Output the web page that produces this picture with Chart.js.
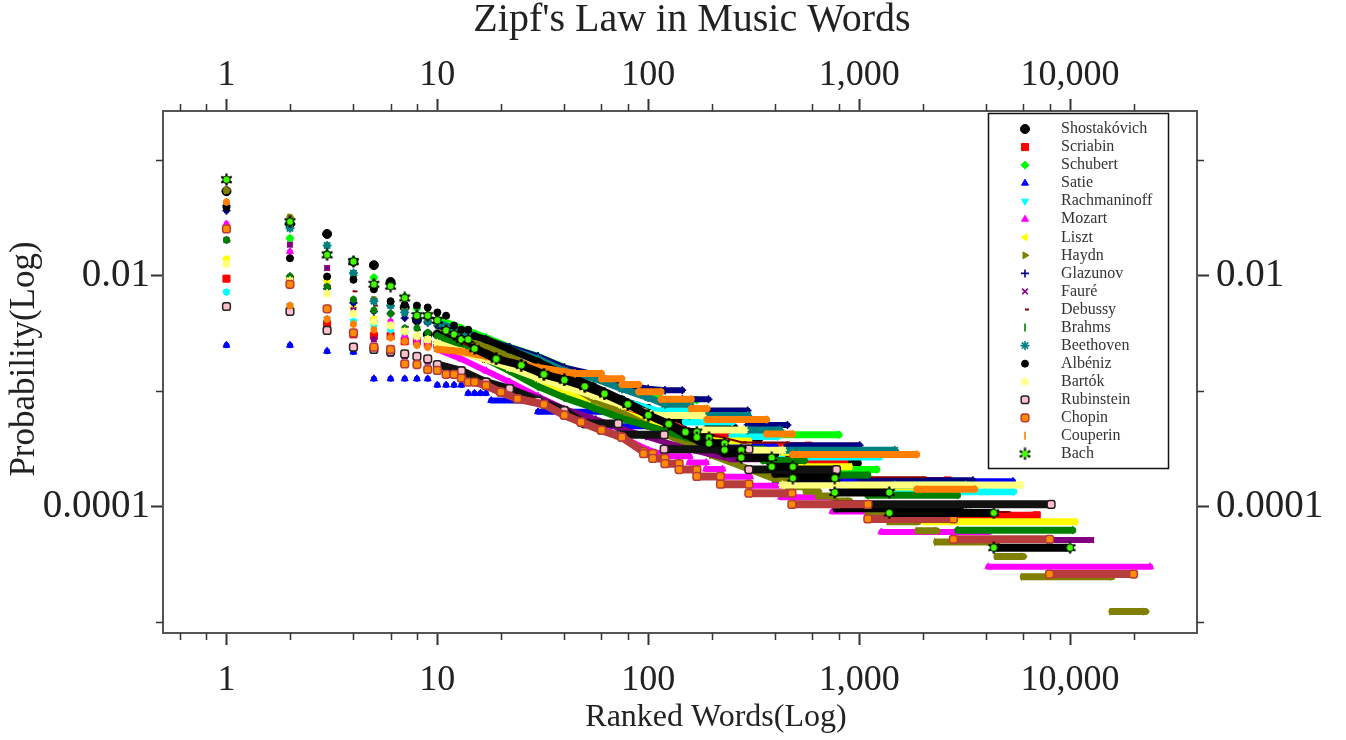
<!DOCTYPE html>
<html>
<head>
<meta charset="utf-8">
<title>Zipf's Law in Music Words</title>
<script src="https://cdn.jsdelivr.net/npm/chart.js@4.4.1/dist/chart.umd.min.js"></script>
<style>
  html, body { margin: 0; padding: 0; background: #fff; }
  canvas { display: block; }
</style>
</head>
<body>
<canvas id="zipf" width="1346" height="740"></canvas>
<script>
// every entry: [firstRank, lastRank, probability]  (a plateau, or one point when ranks are equal)
//          or  [firstRank, lastRank, pStart, pEnd] (the dense middle of the curve)
const shostakovich = [[1,1,0.0536],[2,2,0.028],[3,3,0.0229],[4,4,0.0132],[5,5,0.0123],[6,6,0.0088],[7,7,0.0053],[8,8,0.0041],[9,9,0.0031],
  [10,13,0.0031,0.0027],[13,17,0.0027,0.0023],[17,22,0.0023,0.0019],[22,30,0.0019,0.0015],[30,40,0.0015,0.00125],[40,55,0.00125,0.0010],
  [55,75,0.0010,0.00082],[75,100,0.00082,0.0007],[100,148,0.0007,0.000554],
  [148,192,0.000554],[192,255,0.000475],[255,335,0.000396],[335,600,0.000317],[600,975,0.000238],[975,1440,0.000158],[1440,6400,0.0000792]];
const scriabin = [[1,1,0.0094],[2,2,0.0092],[3,3,0.0038],[4,4,0.0031],[5,5,0.0030],[6,6,0.0030],[7,7,0.0027],[8,8,0.0027],[9,9,0.0026],
  [10,13,0.0025,0.0022],[13,17,0.0022,0.0019],[17,22,0.0019,0.0016],[22,30,0.0016,0.0013],[30,40,0.0013,0.0011],[40,55,0.0011,0.0009],
  [55,75,0.0009,0.00075],[75,100,0.00075,0.00062],[100,170,0.00062,0.000423],
  [170,243,0.000423],[243,575,0.000338],[575,850,0.000254],[850,2630,0.000169],[2630,6950,0.0000845]];
const schubert = [[1,1,0.0255],[2,2,0.0210],[3,3,0.0155],[4,4,0.0136],[5,5,0.0096],[6,6,0.0082],[7,7,0.0066],[8,8,0.0052],[9,9,0.0046],
  [10,13,0.0042,0.0035],[13,17,0.0035,0.0029],[17,22,0.0029,0.0024],[22,30,0.0024,0.0020],[30,40,0.0020,0.0016],[40,55,0.0016,0.0013],
  [55,75,0.0013,0.0011],[75,100,0.0011,0.00095],[100,120,0.00095,0.00084],
  [120,170,0.00084],[170,270,0.00063],[270,800,0.00042],[800,1210,0.00021]];
const satie = [[1,1,0.0025],[2,2,0.0025],[3,3,0.00222],[4,4,0.00218],[5,5,0.00128],[6,6,0.00128],[7,7,0.00128],[8,8,0.00128],[9,9,0.00128],
  [10,10,0.00113],[11,11,0.00113],[12,12,0.00113],[13,13,0.00113],[14,14,0.00096],[15,15,0.00096],[16,16,0.00096],[17,17,0.00096],
  [18,30,0.00083],[30,60,0.000664],[60,120,0.000498],[120,400,0.000332],[400,5360,0.000166]];
const rachmaninoff = [[1,1,0.0072],[2,2,0.0055],[3,3,0.0042],[4,4,0.0040],[5,5,0.0037],[6,6,0.0034],[7,7,0.0031],[8,8,0.0029],[9,9,0.0027],
  [10,13,0.0026,0.0023],[13,17,0.0023,0.0020],[17,22,0.0020,0.0017],[22,30,0.0017,0.0014],[30,40,0.0014,0.0012],[40,55,0.0012,0.00098],
  [55,75,0.00098,0.00083],[75,110,0.00083,0.000675],
  [110,150,0.000675],[150,250,0.00054],[250,410,0.000405],[410,1250,0.00027],[1250,5400,0.000135]];
const mozart = [[1,1,0.0279],[2,2,0.0161],[3,3,0.0085],[4,4,0.0061],[5,5,0.0042],[6,6,0.0040],[7,7,0.0030],[8,8,0.0027],[9,9,0.0025],
  [10,13,0.0023,0.0019],[13,17,0.0019,0.0015],[17,22,0.0015,0.0012],[22,30,0.0012,0.0009],[30,40,0.0009,0.0007],[40,55,0.0007,0.00052],
  [55,75,0.00052,0.0004],[75,100,0.0004,0.00031],[100,125,0.00031,0.000273],
  [125,157,0.000273],[157,188,0.000242],[188,225,0.000212],[225,304,0.000182],[304,427,0.000152],[427,748,0.000121],
  [748,1275,0.0000909],[1275,4100,0.0000606],[4100,24000,0.0000303]];
const liszt = [[1,1,0.0139],[2,2,0.0096],[3,3,0.0090],[4,4,0.0053],[5,5,0.0042],[6,6,0.0037],[7,7,0.0033],[8,8,0.0030],[9,9,0.0028],
  [10,13,0.0026,0.0022],[13,17,0.0022,0.0019],[17,22,0.0019,0.0016],[22,30,0.0016,0.0013],[30,40,0.0013,0.0010],[40,55,0.0010,0.00082],
  [55,75,0.00082,0.00065],[75,100,0.00065,0.00055],[100,140,0.00055,0.00045],[140,200,0.00045,0.00037],
  [200,300,0.00037],[300,500,0.000296],[500,900,0.000222],[900,2040,0.000148],[2040,10570,0.0000741]];
const haydn = [[1,1,0.0545],[2,2,0.0319],[3,3,0.0153],[4,4,0.0100],[5,5,0.0062],[6,6,0.0059],[7,7,0.0051],[8,8,0.0045],[9,9,0.0041],
  [10,13,0.0037,0.0030],[13,17,0.0030,0.0025],[17,22,0.0025,0.0020],[22,30,0.0020,0.0015],[30,40,0.0015,0.0012],[40,55,0.0012,0.00085],
  [55,75,0.00085,0.00065],[75,100,0.00065,0.0005],[100,200,0.0005,0.00028],[200,400,0.00028,0.000174],
  [400,460,0.000174],[460,560,0.000149],[560,640,0.000136],[640,760,0.000124],[760,900,0.000112],[900,1100,0.0000992],[1100,1390,0.0000868],
  [1390,1900,0.0000744],[1900,2330,0.000062],[2330,4500,0.0000496],[4500,6000,0.0000372],[6000,15800,0.0000248],[15800,22800,0.0000124]];
const glazunov = [[1,1,0.0364],[2,2,0.0098],[3,3,0.0077],[4,4,0.0058],[5,5,0.0049],[6,6,0.0047],[7,7,0.0043],[8,8,0.0041],[9,9,0.0039],
  [10,13,0.0037,0.0032],[13,17,0.0032,0.0028],[17,22,0.0028,0.0024],[22,30,0.0024,0.0020],[30,40,0.0020,0.0016],[40,55,0.0016,0.0014],
  [55,75,0.0014,0.00115],[75,100,0.00115,0.00105],[100,120,0.00105,0.00102],
  [120,145,0.00102],[145,193,0.00085],[193,296,0.00068],[296,457,0.00051],[457,1005,0.00034],[1005,3460,0.00017]];
const faure = [[1,1,0.0203],[2,2,0.0185],[3,3,0.0116],[4,4,0.0050],[5,5,0.0028],[6,6,0.0021],[7,7,0.0020],[8,8,0.0019],[9,9,0.0018],
  [10,13,0.0017,0.0015],[13,17,0.0015,0.0012],[17,22,0.0012,0.00105],[22,30,0.00105,0.00088],[30,40,0.00088,0.0007],[40,55,0.0007,0.00058],
  [55,75,0.00058,0.00047],[75,100,0.00047,0.0004],[100,150,0.0004,0.00032],[150,250,0.00032,0.000258],
  [250,400,0.000258],[400,700,0.000206],[700,1400,0.000155],[1400,3300,0.000103],[3300,12600,0.0000515]];
const debussy = [[1,1,0.0200],[2,2,0.0096],[3,3,0.0080],[4,4,0.0073],[5,5,0.0055],[6,6,0.0047],[7,7,0.0036],[8,8,0.0034],[9,9,0.0032],
  [10,13,0.0030,0.0026],[13,17,0.0026,0.0022],[17,22,0.0022,0.0018],[22,30,0.0018,0.0015],[30,40,0.0015,0.0012],[40,55,0.0012,0.00095],
  [55,75,0.00095,0.00075],[75,100,0.00075,0.00062],[100,150,0.00062,0.00048],[150,280,0.00048,0.00036],
  [280,450,0.00036],[450,800,0.00027],[800,2000,0.00018],[2000,5000,0.00009]];
const brahms = [[1,1,0.0203],[2,2,0.0098],[3,3,0.0080],[4,4,0.0062],[5,5,0.0050],[6,6,0.0047],[7,7,0.0035],[8,8,0.0035],[9,9,0.0032],
  [10,13,0.0030,0.0024],[13,17,0.0024,0.0019],[17,22,0.0019,0.0015],[22,30,0.0015,0.0011],[30,40,0.0011,0.00088],[40,55,0.00088,0.00072],
  [55,75,0.00072,0.00058],[75,100,0.00058,0.0005],[100,150,0.0005,0.0004],[150,250,0.0004,0.000314],
  [250,350,0.000314],[350,550,0.000251],[550,1100,0.000188],[1100,2930,0.000126],[2930,10300,0.0000628]];
const beethoven = [[1,1,0.0402],[2,2,0.0257],[3,3,0.0182],[4,4,0.0105],[5,5,0.0060],[6,6,0.0055],[7,7,0.0048],[8,8,0.0045],[9,9,0.0040],
  [10,13,0.0039,0.0033],[13,17,0.0033,0.0028],[17,22,0.0028,0.0023],[22,30,0.0023,0.0019],[30,40,0.0019,0.0015],[40,55,0.0015,0.0013],
  [55,75,0.0013,0.00105],[75,100,0.00105,0.00088],[100,120,0.00088,0.00077],
  [120,157,0.00077],[157,296,0.000616],[296,420,0.000462],[420,1475,0.000308],[1475,3200,0.000154]];
const albeniz = [[1,1,0.0389],[2,2,0.0141],[3,3,0.0098],[4,4,0.0092],[5,5,0.0076],[6,6,0.0060],[7,7,0.0056],[8,8,0.0055],[9,9,0.0053],
  [10,10,0.0048],[11,11,0.0045],[12,12,0.0037],[13,13,0.0034],[14,14,0.0034],
  [15,17,0.0030,0.0028],[17,22,0.0028,0.0023],[22,30,0.0023,0.0018],[30,40,0.0018,0.0014],[40,55,0.0014,0.0011],
  [55,75,0.0011,0.00085],[75,100,0.00085,0.00065],[100,150,0.00065,0.00042],[150,230,0.00042,0.000288],
  [230,400,0.000288],[400,780,0.000192],[780,3000,0.000096]];
const bartok = [[1,1,0.0126],[2,2,0.0090],[3,3,0.0070],[4,4,0.0047],[5,5,0.0040],[6,6,0.0037],[7,7,0.0033],[8,8,0.0030],[9,9,0.0028],
  [10,13,0.0026,0.0022],[13,17,0.0022,0.0019],[17,22,0.0019,0.0016],[22,30,0.0016,0.0013],[30,40,0.0013,0.0011],[40,55,0.0011,0.00092],
  [55,75,0.00092,0.00076],[75,110,0.00076,0.000616],
  [110,180,0.000616],[180,285,0.000462],[285,433,0.000308],[433,5800,0.000154]];
const rubinstein = [[1,1,0.0054],[2,2,0.0049],[3,3,0.00335],[4,4,0.0024],[5,5,0.0023],[6,6,0.0022],[7,7,0.0021],[8,8,0.0020],[9,9,0.0019],
  [10,13,0.0017,0.0015],[13,17,0.0015,0.0012],[17,22,0.0012,0.00105],[22,30,0.00105,0.00082],[30,40,0.00082,0.00068],[40,50,0.00068,0.000525],
  [50,72,0.000525],[72,119,0.00042],[119,300,0.000315],[300,781,0.00021],[781,8130,0.000105]];
const chopin = [[1,1,0.0253],[2,2,0.0084],[3,3,0.00516],[4,4,0.0032],[5,5,0.0024],[6,6,0.0023],[7,7,0.00172],[8,8,0.0017],[9,9,0.00154],
  [10,10,0.00151],[11,11,0.0014],[12,12,0.0014],[13,13,0.0013],[14,14,0.0012],
  [15,17,0.0012,0.00112],[17,20,0.00112,0.00098],[20,24,0.00098,0.00086],[24,32,0.00086,0.00077],[32,40,0.00077,0.00062],
  [40,48,0.00062,0.00054],[48,60,0.00054,0.00046],[60,75,0.00046,0.0004],[75,95,0.0004,0.0003],
  [95,105,0.000288],[105,120,0.000262],[120,140,0.000236],[140,170,0.00021],[170,220,0.000183],[220,300,0.000157],
  [300,480,0.000131],[480,1100,0.000105],[1100,2800,0.0000786],[2800,8000,0.0000524],[8000,20000,0.0000262]];
const couperin = [[1,1,0.0433],[2,2,0.0055],[3,3,0.0042],[4,4,0.0038],[5,5,0.0034],[6,6,0.0029],[7,7,0.0027],[8,8,0.0025],[9,9,0.0024],
  [10,13,0.0023,0.0022],[13,17,0.0022,0.0020],[17,22,0.0020,0.0018],[22,30,0.0018,0.0016],[30,45,0.0016,0.00142],
  [45,60,0.00142],[60,75,0.00128],[75,90,0.00114],[90,115,0.00099],[115,160,0.00085],
  [160,190,0.00071],[190,364,0.000568],[364,483,0.000426],[483,1875,0.000284],[1875,3530,0.000142]];
const bach = [[1,1,0.0675],[2,2,0.0292],[3,3,0.0151],[4,4,0.0132],[5,5,0.0084],[6,6,0.0081],[7,7,0.0064],[8,8,0.0045],[9,9,0.0045],
  [10,10,0.0041],[11,11,0.00335],[12,12,0.0031],[13,13,0.0028],[14,14,0.0028],
  [15,19,0.00233,0.0019],[19,25,0.0019,0.00168],[25,32,0.00168,0.0014],[32,40,0.0014,0.00125],[40,50,0.00125,0.0011],
  [50,62,0.0011,0.00095],[62,80,0.00095,0.00077],[80,100,0.00077,0.00062],[100,125,0.00062,0.00052],[125,150,0.00052,0.000443],
  [150,170,0.000443],[170,194,0.000399],[194,230,0.000354],[230,276,0.00031],[276,385,0.000266],[385,485,0.000222],
  [485,766,0.000177],[766,1390,0.000133],[1390,4350,0.0000886],[4350,10000,0.0000443]];

const composers = ['Shostakóvich', 'Scriabin', 'Schubert', 'Satie', 'Rachmaninoff', 'Mozart', 'Liszt', 'Haydn', 'Glazunov',
  'Fauré', 'Debussy', 'Brahms', 'Beethoven', 'Albéniz', 'Bartók', 'Rubinstein', 'Chopin', 'Couperin', 'Bach'];
const allSeries = [shostakovich, scriabin, schubert, satie, rachmaninoff, mozart, liszt, haydn, glazunov,
  faure, debussy, brahms, beethoven, albeniz, bartok, rubinstein, chopin, couperin, bach];

const xTicks = [1, 10, 100, 1000, 10000];
const xMinorTicks = [0.6, 0.8, 2, 4, 6, 8, 20, 40, 60, 80, 200, 400, 600, 800, 2000, 4000, 6000, 8000, 20000];
const yTicks = [0.01, 0.0001];
const yTickLabels = ['0.01', '0.0001'];
const yMinorTicks = [0.1, 0.001, 0.00001];

const chartTitle = "Zipf's Law in Music Words";
const xTitle = 'Ranked Words(Log)';
const yTitle = 'Probability(Log)';

// styles
function bachStar() {
    const c = document.createElement('canvas');
    c.width = 13; c.height = 13;
    const g = c.getContext('2d');
    g.strokeStyle = '#000'; g.lineWidth = 2.2;
    for (let k = 0; k < 6; k++) {
        const a = k * Math.PI / 3 + Math.PI / 6;
        g.beginPath(); g.moveTo(6.5, 6.5); g.lineTo(6.5 + 6 * Math.cos(a), 6.5 + 6 * Math.sin(a)); g.stroke();
    }
    g.fillStyle = '#44ff00';
    g.beginPath(); g.arc(6.5, 6.5, 3.2, 0, 2 * Math.PI); g.fill();
    return c;
}
const markerStyles = ['circle', 'rect', 'rectRot', 'triangle', 'triangle', 'triangle', 'triangle', 'triangle', 'cross',
  'crossRot', 'dash', 'line', 'star', 'circle', 'star', 'rectRounded', 'rectRounded', 'line', bachStar()];
const markerRotations = [0, 0, 0, 0, 180, 0, 270, 90, 0, 0, 0, 90, 0, 0, 0, 0, 0, 90, 0];
const markerSizes = [4.5, 5, 4, 4, 4, 4, 4, 4, 4, 4, 4, 4, 4.5, 3.5, 4.5, 4.5, 4.5, 4, 5];
const fillColors = ['#000', '#ff0000', '#00ff00', '#0000ff', '#00ffff', '#ff00ff', '#ffff00', '#808000', '#000080',
  '#800080', '#800000', '#008000', '#008080', '#000', '#ffff80', '#ffc0cb', '#ff8c00', '#ff8000', '#44ff00'];
const edgeColors = ['#000', '#ff0000', '#00ff00', '#0000ff', '#00ffff', '#ff00ff', '#ffff00', '#808000', '#000080',
  '#800080', '#800000', '#008000', '#008080', '#000', '#ffff80', '#222', '#b83c3c', '#ff8000', '#000'];
const edgeWidths = [1, 1, 1, 1, 1, 1, 1, 1, 1.6, 1.6, 2, 1.6, 1.6, 1, 1.6, 1.5, 1.5, 1.6, 1];
const lineColors = ['#000', '#ff0000', '#00ff00', '#0000ff', '#00ffff', '#ff00ff', '#ffff00', '#808000', '#000080',
  '#800080', '#800000', '#008000', '#008080', '#000', '#ffff80', '#111', '#b83c3c', '#ff8000', '#000'];
const barWidths = [8, 7, 7, 6, 7, 6, 7, 7, 6, 6, 2, 7, 7, 7, 7, 8, 8, 7, 8];

const serif = '"Liberation Serif", "Times New Roman", serif';
const textColor = '#222';

function toPoints(runs) {
    const pts = [];
    runs.forEach(function (run) {
        const pa = run[2];
        const pb = run.length > 3 ? run[3] : run[2];
        pts.push({ x: run[0], y: pa });
        if (run[1] !== run[0]) pts.push({ x: run[1], y: pb });
        pts.push({ x: run[1], y: null });
    });
    return pts;
}

const datasets = composers.map(function (name, i) {
    return {
        label: name,
        data: toPoints(allSeries[i]),
        showLine: true,
        spanGaps: false,
        borderColor: lineColors[i],
        borderWidth: barWidths[i],
        borderCapStyle: 'round',
        pointStyle: markerStyles[i],
        pointRotation: markerRotations[i],
        pointRadius: markerSizes[i],
        pointHoverRadius: markerSizes[i],
        pointBackgroundColor: fillColors[i],
        pointBorderColor: edgeColors[i],
        pointBorderWidth: edgeWidths[i],
        order: composers.length - 1 - i,
        xAxisID: 'x',
        yAxisID: 'y'
    };
});

function xAxis(position, labelPad, height) {
    return {
        type: 'logarithmic',
        position: position,
        min: 0.5,
        max: 40000,
        afterBuildTicks: function (s) { s.ticks = xTicks.map(v => ({ value: v })); },
        afterFit: function (s) { s.height = height; },
        ticks: {
            font: { family: serif, size: 36 },
            color: textColor,
            padding: labelPad,
            autoSkip: false,
            maxRotation: 0,
            callback: v => Number(v).toLocaleString('en-US')
        },
        grid: { drawOnChartArea: false, tickLength: 12, tickWidth: 2, tickColor: '#333' },
        border: { color: '#555', width: 2 }
    };
}

function yAxis(position, labelPad, width) {
    return {
        type: 'logarithmic',
        position: position,
        min: 0.0000081,
        max: 0.265,
        afterBuildTicks: function (s) { s.ticks = yTicks.map(v => ({ value: v })); },
        afterFit: function (s) { s.width = width; },
        ticks: {
            font: { family: serif, size: 39 },
            color: textColor,
            padding: labelPad,
            autoSkip: false,
            callback: (v, i) => yTickLabels[i]
        },
        grid: { drawOnChartArea: false, tickLength: 12, tickWidth: 2, tickColor: '#333' },
        border: { color: '#555', width: 2 }
    };
}

const minorTicks = {
    id: 'minorTicks',
    afterDraw(chart) {
        const ctx = chart.ctx;
        const a = chart.chartArea;
        const sx = chart.scales.x, sy = chart.scales.y;
        ctx.save();
        ctx.strokeStyle = '#333';
        ctx.lineWidth = 1.5;
        ctx.beginPath();
        xMinorTicks.forEach(function (v) {
            const px = Math.round(sx.getPixelForValue(v)) + 0.5;
            ctx.moveTo(px, a.bottom); ctx.lineTo(px, a.bottom + 7);
            ctx.moveTo(px, a.top); ctx.lineTo(px, a.top - 7);
        });
        yMinorTicks.forEach(function (v) {
            const py = Math.round(sy.getPixelForValue(v)) + 0.5;
            ctx.moveTo(a.left, py); ctx.lineTo(a.left - 7, py);
            ctx.moveTo(a.right, py); ctx.lineTo(a.right + 7, py);
        });
        ctx.stroke();
        ctx.restore();
    }
};

// titles sit a little off the plot centre in the original, so they are placed by hand
const titles = {
    id: 'titles',
    afterDraw(chart) {
        const ctx = chart.ctx;
        ctx.save();
        ctx.fillStyle = textColor;
        ctx.textAlign = 'center';
        ctx.textBaseline = 'middle';
        ctx.font = '40px ' + serif;
        ctx.fillText(chartTitle, 692, 20);
        ctx.font = '32px ' + serif;
        ctx.fillText(xTitle, 716, 718);
        ctx.translate(25, 359);
        ctx.rotate(-Math.PI / 2);
        ctx.font = '35px ' + serif;
        ctx.fillText(yTitle, 0, 0);
        ctx.restore();
    }
};

const legendBox = {
    id: 'legendBox',
    afterDraw(chart) {
        const ctx = chart.ctx;
        const left = 988.5, top = 113.5, w = 180, h = 355;
        ctx.save();
        ctx.fillStyle = '#fff';
        ctx.fillRect(left, top, w, h);
        ctx.strokeStyle = '#111';
        ctx.lineWidth = 1.5;
        ctx.strokeRect(left, top, w, h);
        ctx.font = '16px ' + serif;
        ctx.textBaseline = 'middle';
        ctx.textAlign = 'left';
        chart.data.datasets.forEach(function (ds, i) {
            const y = 129 + i * 18.05;
            ctx.fillStyle = ds.pointBackgroundColor;
            ctx.strokeStyle = ds.pointBorderColor;
            ctx.lineWidth = ds.pointBorderWidth;
            Chart.helpers.drawPoint(ctx, {
                pointStyle: ds.pointStyle,
                rotation: ds.pointRotation,
                radius: ds.pointRadius,
                borderWidth: ds.pointBorderWidth
            }, 1025, y);
            ctx.fillStyle = '#333';
            ctx.fillText(ds.label, 1061, y);
        });
        ctx.restore();
    }
};

new Chart(document.getElementById('zipf'), {
    type: 'line',
    data: { datasets: datasets },
    options: {
        responsive: false,
        devicePixelRatio: 1,
        animation: false,
        layout: { padding: 0 },
        plugins: { legend: { display: false }, tooltip: { enabled: false } },
        scales: {
            x: xAxis('bottom', 14, 107),
            x2: xAxis('top', 2, 111),
            y: yAxis('left', 1, 163),
            y2: yAxis('right', 7, 149)
        }
    },
    plugins: [minorTicks, titles, legendBox]
});
</script>
</body>
</html>
